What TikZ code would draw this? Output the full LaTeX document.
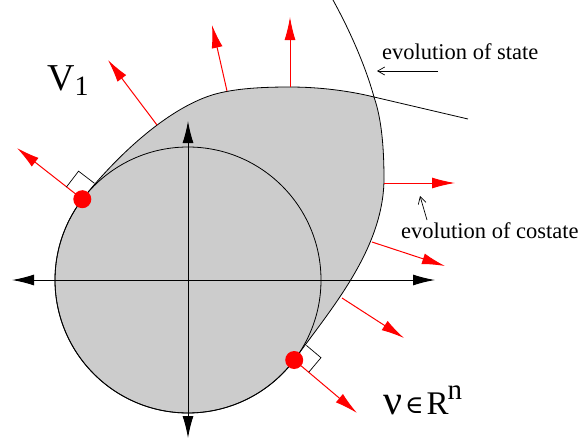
\documentclass[tikz,border=0pt]{standalone}
\usepackage{fontspec}
\setmainfont{Liberation Serif}
\newfontfamily\symfont{DejaVu Serif}
\usetikzlibrary{arrows.meta}
\newcommand{\NrmTip}{Latex[length=23,width=11]}
\newcommand{\AxTip}{Latex[length=22,width=11]}
\newcommand{\EvoTip}{Straight Barb[length=7,width=8]}
\definecolor{blobgray}{RGB}{204,204,204}
\tikzset{nrm/.style={red,line width=1pt,-{\NrmTip}}}
\tikzset{evo/.style={line width=.7pt,-{\EvoTip}}}
\tikzset{lbl/.style={inner sep=0pt,anchor=base west}}

\begin{document}
\begin{tikzpicture}[x=1pt,y=-1pt]
\useasboundingbox(0,0)rectangle(580,445);
\coordinate(o)at(188,280);\coordinate(p)at(82.3,199.2);\coordinate(q)at(294.2,360);
% reachable set and its boundary curves
\filldraw[fill=blobgray,line width=.8pt](p)..controls(115,158)and(165,110)..(212,95)..controls(235,88)and(265,87)..(290,87)..controls(320,87)and(350,91)..(374,97)
..controls(382,120)and(384,150)..(384,180)..controls(383,250)and(330,310)..(q)arc(37:217.4:133)--cycle;
\draw[line width=.8pt](333,0)..controls(355,40)and(368,75)..(374,97)--(468,119);
\draw[line width=.8pt](o)circle[radius=133];
% axes
\coordinate(xl)at(12,280);\coordinate(xr)at(435,280);\coordinate(yt)at(188,121);\coordinate(yb)at(188,438);
\begin{scope}[line width=1pt,{\AxTip}-{\AxTip}]\draw(xl)--(xr);\draw(yt)--(yb);\end{scope}
% normals
\coordinate(b2)at(157,125);\coordinate(b3)at(227,91);\coordinate(b4)at(290,87);\coordinate(b5)at(384,183);
\coordinate(b6)at(372,242);\coordinate(b7)at(342,298);
\coordinate(t1)at(17,148);\coordinate(t2)at(108,60);\coordinate(t3)at(212,25);\coordinate(t4)at(290,17);
\coordinate(t5)at(455,183);\coordinate(t6)at(445,266);\coordinate(t7)at(404,338);\coordinate(t8)at(357,413);
\draw[nrm](p)--(t1);\draw[nrm](b2)--(t2);\draw[nrm](b3)--(t3);\draw[nrm](b4)--(t4);
\draw[nrm](b5)--(t5);\draw[nrm](b6)--(t6);\draw[nrm](b7)--(t7);\draw[nrm](q)--(t8);
% right angles
\draw[line width=.7pt](p)++(217.4:20)--++(307.4:20)--++(37.4:20);
\draw[line width=.7pt](q)++(40:19)--++(-50:19)--++(220:19);
\fill[red](p)circle[radius=9](q)circle[radius=9];
% labels
\node[lbl](st)at(382,59){\fontsize{22.5}{25}\selectfont evolution of state};
\node[lbl](cs)at(401,238){\fontsize{22.5}{25}\selectfont evolution of costate};
\coordinate(sa)at(438,71);\coordinate(se)at(377,71);\coordinate(ca)at(427,220);\coordinate(ce)at(420,196);
\draw[evo](sa)--(se);\draw[evo](ca)--(ce);
\node[lbl](v)at(47,90){\fontsize{38}{40}\selectfont V\raisebox{-5pt}{\fontsize{28}{30}\selectfont 1}};
\node[lbl](nu)at(383,414){\fontsize{42}{44}\selectfont ν\kern3pt\raisebox{1pt}{\symfont\fontsize{25}{27}\selectfont ∈}\kern3pt{\fontsize{33}{36}\selectfont R\kern-1pt\raisebox{15pt}{\fontsize{29}{30}\selectfont n}}};
\end{tikzpicture}
\end{document}
